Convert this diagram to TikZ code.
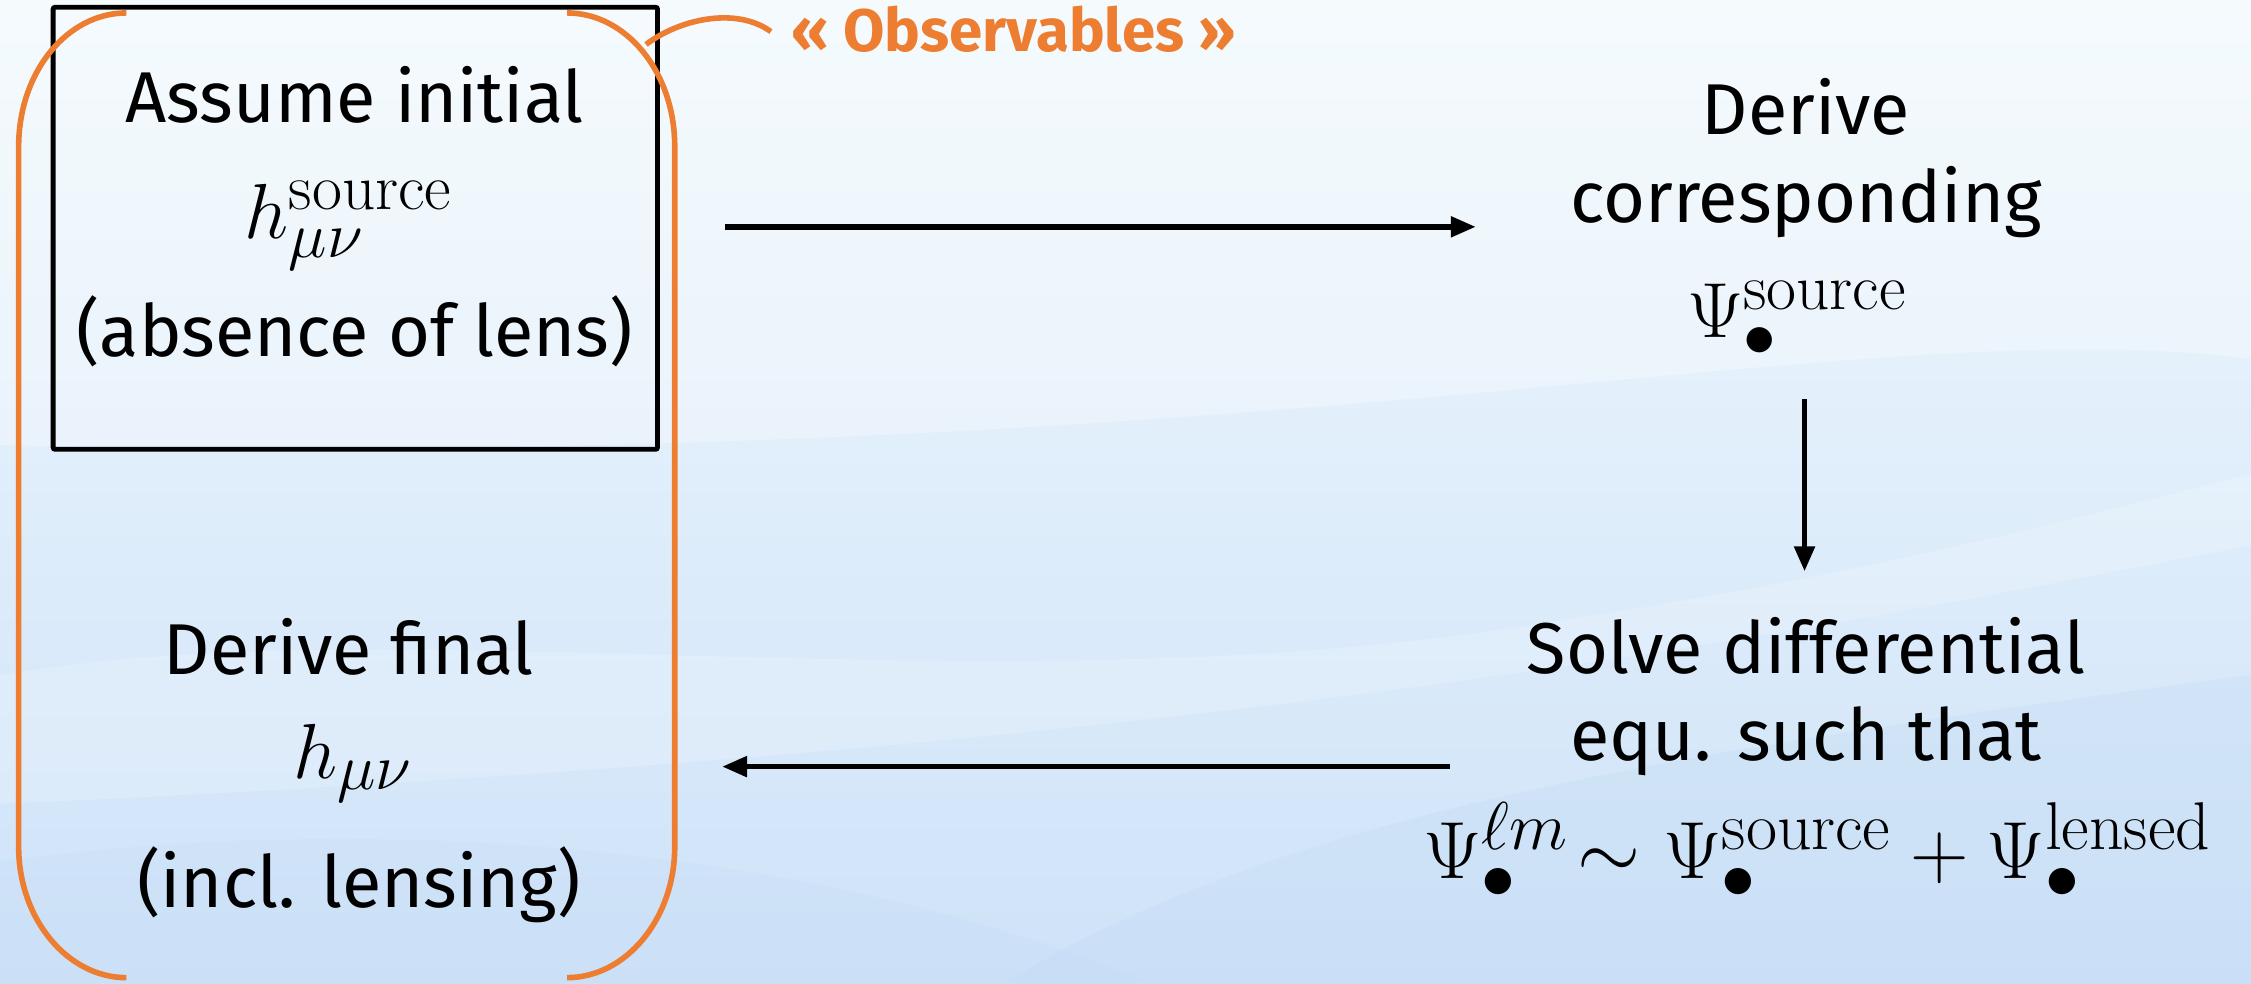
\documentclass[tikz,border=0pt]{standalone}
\usepackage[no-math]{fontspec}
\usepackage{graphicx}
\setmainfont{Fira Sans}
\usetikzlibrary{arrows.meta}
\definecolor{obsorange}{RGB}{237,125,49}
\definecolor{bgtop}{RGB}{241,249,253}
\definecolor{bgbot}{RGB}{206,226,248}
\definecolor{bandblue}{RGB}{196,220,246}
\newcommand{\bigmath}[2][1.57]{\scalebox{#1}{\fontsize{24.88}{30}\selectfont$#2$}}
\begin{document}
\begin{tikzpicture}[x=0.7178pt,y=-0.7178pt,
  txt/.style={font=\fontsize{36}{44}\selectfont, inner sep=0pt, anchor=base},
  mth/.style={inner sep=0pt, anchor=base},
  obs/.style={font=\fontsize{30}{36}\selectfont\bfseries, text=obsorange, inner sep=0pt, anchor=base west},
  flow/.style={line width=2.7pt, -{Triangle[length=12.5pt,width=10pt]}},
  framebox/.style={draw=black, line width=2.4pt, rounded corners=1pt},
  bracket/.style={draw=obsorange, line width=2.8pt},
]
\useasboundingbox (0,0) rectangle (1568,685);
% background
\fill[top color=bgtop, bottom color=bgbot] (0,0) rectangle (1568,685);
\fill[white, opacity=0.30] (0,0) -- (1568,0) -- (1568,250) .. controls (1300,215) and (900,330) .. (0,310) -- cycle;
\fill[bandblue, opacity=0.35] (700,685) .. controls (900,560) and (1200,520) .. (1568,470) -- (1568,685) -- cycle;
\fill[white, opacity=0.18] (0,470) .. controls (300,420) and (700,500) .. (1100,430) .. controls (1300,400) and (1450,360) .. (1568,330) -- (1568,380) .. controls (1300,430) and (900,520) .. (0,560) -- cycle;
\fill[bandblue, opacity=0.25] (0,600) .. controls (300,560) and (600,600) .. (800,685) -- (0,685) -- cycle;

% black frame
\draw[framebox] (37,5) rectangle (458,313);

% orange bracket
\draw[bracket] (88,9) .. controls (47,9) and (13,50) .. (13,102) -- (13,590) .. controls (13,640) and (47,681) .. (88,681);
\draw[bracket] (395,9) .. controls (436,9) and (470,50) .. (470,102) -- (470,590) .. controls (470,640) and (436,681) .. (395,681);
\coordinate (cstart) at (450,31);
\coordinate (cend) at (537,22);
\draw[bracket] (cstart) .. controls (472,14) and (512,4) .. (cend);
\node[obs] (obs) at (551,36) {« Observables »};

% left upper block
\node[txt] (a1) at (247,85) {Assume initial};
\node[mth] (a2) at (243,166) {\bigmath{h_{\mu\nu}^{\mathrm{source}}}};
\node[txt] (a3) at (247,248) {(absence of lens)};

% right upper block
\node[txt] (b1) at (1258,94) {Derive};
\node[txt] (b2) at (1258,155) {corresponding};
\node[mth] (b3) at (1252,235) {\bigmath{\Psi_{\bullet}^{\mathrm{source}}}};

% right lower block
\node[txt] (c1) at (1258,469) {Solve differential};
\node[txt] (c2) at (1258,530) {equ. such that};
\node[mth] (c3) at (1266,612) {\bigmath[1.63]{\Psi^{\ell m}_{\bullet}\!\sim\Psi^{\mathrm{source}}_{\bullet}+\Psi^{\mathrm{lensed}}_{\bullet}}};

% left lower block
\node[txt] (d1) at (243,470) {Derive final};
\node[mth] (d2) at (246,542) {\bigmath{h_{\mu\nu}}};
\node[txt] (d3) at (250,632) {(incl. lensing)};

% arrows
\coordinate (p1) at (505,158);
\coordinate (p2) at (1028,158);
\coordinate (q1) at (1257,278);
\coordinate (q2) at (1257,398);
\coordinate (r1) at (1010,534);
\coordinate (r2) at (503,534);
\draw[flow] (p1) -- (p2);
\draw[flow] (q1) -- (q2);
\draw[flow] (r1) -- (r2);
\end{tikzpicture}
\end{document}
